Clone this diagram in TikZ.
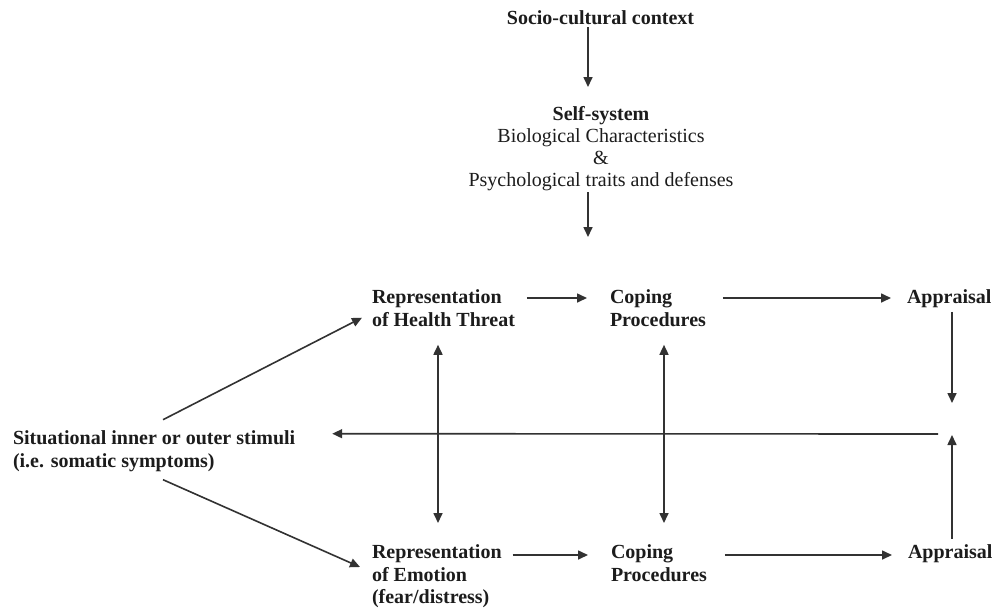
\documentclass[tikz,border=0pt]{standalone}
\usepackage{fontspec}
\setmainfont{Liberation Serif}
\usetikzlibrary{arrows.meta,calc}
\definecolor{ink}{RGB}{28,28,28}
\definecolor{lineink}{RGB}{50,50,50}
\begin{document}
\begin{tikzpicture}[x=1pt,y=-1pt,
  lbl/.style={inner sep=0pt, outer sep=0pt, text=ink, font=\fontsize{20}{22.5}\selectfont\bfseries, align=left},
  arr/.style={draw=lineink, line width=1.6pt, -{Triangle[length=10pt,width=9pt]}},
  darr/.style={draw=lineink, line width=1.6pt, {Triangle[length=10pt,width=9pt]}-{Triangle[length=10pt,width=9pt]}}]
\fill[white] (0,0) rectangle (998,611);
\useasboundingbox (0,0) rectangle (998,611);
% helper lines
\coordinate (rowA) at (0,298);
\coordinate (rowB) at (0,555);
\coordinate (colA) at (438,0);
\coordinate (colB) at (664,0);
\coordinate (colC) at (952,0);
\coordinate (colS) at (588,0);
% nodes
\node[lbl, anchor=base] (soc) at (600.5,24.5) {Socio-cultural context};
\node[lbl, anchor=north, align=center, font=\fontsize{20}{22}\selectfont\mdseries] (self) at (601,106)
  {\textbf{Self-system}\\Biological Characteristics\\\&\\Psychological traits and defenses};
\coordinate (selfout) at (588,237);
\node[lbl, anchor=north west] (rht) at (372,289.7) {Representation\\of Health Threat};
\node[lbl, anchor=north west] (cp1) at (610,289.7) {Coping\\Procedures};
\node[lbl, anchor=base west] (ap1) at (907,303.5) {Appraisal};
\node[lbl, anchor=north west] (sit) at (13,430.7) {Situational inner or outer stimuli\\(i.e. somatic symptoms)};
\node[lbl, anchor=north west] (rem) at (372,545) {Representation\\of Emotion\\(fear/distress)};
\node[lbl, anchor=north west] (cp2) at (611,545) {Coping\\Procedures};
\node[lbl, anchor=base west] (ap2) at (908,558.5) {Appraisal};
\coordinate (apdown) at (952,403);
\coordinate (apup) at (952,435);
\coordinate (fb) at (938,434);
% connectors
\draw[arr, shorten <=2.5pt, shorten >=19pt] (soc.south -| colS) -- (self.north -| colS);
\draw[arr, shorten <=2pt] (self.south -| colS) -- (selfout);
\draw[arr] ($(sit.north west)+(150,-11)$) -- ($(rht.north west)+(-10,28)$);
\draw[arr] ($(sit.north west)+(150,49)$) -- ($(rem.north west)+(-12,22)$);
\draw[arr] (fb) -- ($(sit.north east)+(37,3)$);
\draw[arr, shorten <=12pt, shorten >=23pt] (rht.east |- rowA) -- (cp1.west |- rowA);
\draw[arr, shorten <=17pt, shorten >=16pt] (cp1.east |- rowA) -- (ap1.west |- rowA);
\draw[arr, shorten <=11pt, shorten >=23pt] (rem.east |- rowB) -- (cp2.west |- rowB);
\draw[arr, shorten <=18pt, shorten >=16pt] (cp2.east |- rowB) -- (ap2.west |- rowB);
\draw[darr, shorten <=18.5pt, shorten >=22pt] (rht.south -| colA) -- (rem.north -| colA);
\draw[darr, shorten <=18.5pt, shorten >=22pt] (cp1.south -| colB) -- (cp2.north -| colB);
\draw[arr, shorten <=4pt] (ap1.south -| colC) -- (apdown);
\draw[arr, shorten <=6pt] (ap2.north -| colC) -- (apup);
\end{tikzpicture}
\end{document}
